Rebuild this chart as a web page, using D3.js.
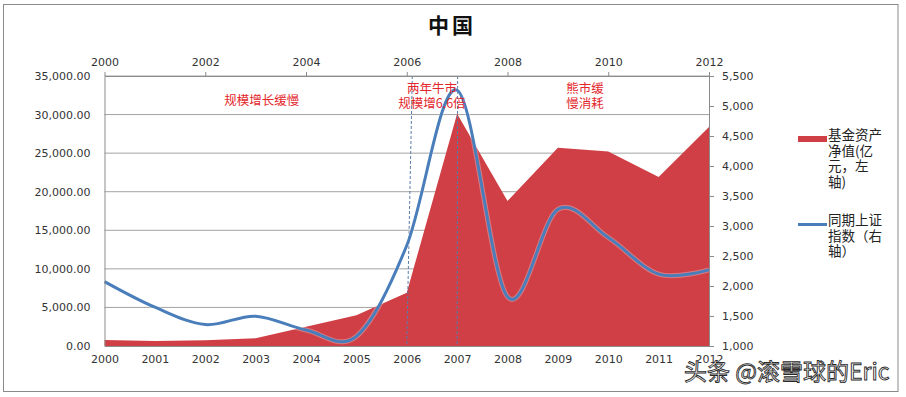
<!DOCTYPE html>
<html>
<head>
<meta charset="utf-8">
<script src="https://cdn.jsdelivr.net/npm/d3@7"></script>
<style>
  body { margin: 0; background: #fff; }
  svg { display: block; }
</style>
</head>
<body>
<div id="wrapper"></div>
<script>
// data
const years = [2000, 2001, 2002, 2003, 2004, 2005, 2006, 2007, 2008, 2009, 2010, 2011, 2012]
// 基金资产净值 (亿元, left axis)
const fundNav = [780, 650, 740, 1000, 2500, 4000, 6900, 30100, 18800, 25700, 25200, 21900, 28400]
// 同期上证指数 (right axis)
const shIndex = [2073, 1646, 1357, 1497, 1266, 1161, 2675, 5262, 1821, 3277, 2808, 2199, 2269]
const topTicks = [2000, 2002, 2004, 2006, 2008, 2010, 2012]
const leftTicks = [0, 5000, 10000, 15000, 20000, 25000, 30000, 35000]
const rightTicks = [1000, 1500, 2000, 2500, 3000, 3500, 4000, 4500, 5000, 5500]
const markerYears = [2006, 2007]
// annotation anchors in data units (year, left-axis value of first line)
const notes = [
  { lines: ['规模增长缓慢'], year: 2003.12, value: 31870 },
  { lines: ['两年牛市', '规模增6.6倍'], year: 2006.5, value: 33350 },
  { lines: ['熊市缓', '慢消耗'], year: 2009.54, value: 33300 },
]
const legendNav = ['基金资产', '净值(亿', '元，左', '轴)']
const legendIdx = ['同期上证', '指数（右', '轴）']

const width = 906
const height = 397
const dims = { left: 104.5, right: 709, top: 76, bottom: 346 }

const areaColor = '#cf3f45'
const lineColor = '#4a7ebb'
const axisColor = '#8c8c8c'
const labelFont = '"DejaVu Sans", Verdana, sans-serif'
const cjkFont = '"Noto Sans CJK SC", sans-serif'

const svg = d3.select('#wrapper').append('svg')
  .attr('width', width)
  .attr('height', height)

// outer frame
svg.append('rect')
  .attr('x', 3.5).attr('y', 4.5)
  .attr('width', 894.5).attr('height', 387)
  .attr('fill', '#fff')
  .attr('stroke', '#8a8a8a')

svg.append('text')
  .attr('x', 452).attr('y', 33)
  .attr('text-anchor', 'middle')
  .style('font-family', cjkFont)
  .style('font-weight', 700)
  .style('font-size', '21px')
  .style('letter-spacing', '3px')
  .attr('fill', '#111')
  .text('中国')

// scales
const xScale = d3.scaleLinear().domain([2000, 2012]).range([dims.left, dims.right])
const yLeft = d3.scaleLinear().domain([0, 35000]).range([dims.bottom, dims.top])
const yRight = d3.scaleLinear().domain([1000, 5500]).range([dims.bottom, dims.top])

// gridlines
svg.append('g')
  .selectAll('line')
  .data(leftTicks.slice(1))
  .join('line')
  .attr('x1', dims.left).attr('x2', dims.right)
  .attr('y1', (d) => yLeft(d)).attr('y2', (d) => yLeft(d))
  .attr('stroke', '#a3a3a3')
  .attr('stroke-width', 1)

// area
const area = d3.area()
  .x((d, i) => xScale(years[i]))
  .y0(yLeft(0))
  .y1((d) => yLeft(d))
svg.append('path')
  .datum(fundNav)
  .attr('d', area)
  .attr('fill', areaColor)

// dashed markers (first one is slightly slanted in the original)
svg.append('g')
  .selectAll('line')
  .data(markerYears)
  .join('line')
  .attr('x1', (d, i) => xScale(d + (i === 0 ? 0.11 : 0.01)))
  .attr('x2', (d) => xScale(d))
  .attr('y1', dims.top)
  .attr('y2', dims.bottom)
  .attr('stroke', '#5a7aa8')
  .attr('stroke-width', 1)
  .attr('stroke-dasharray', '3,2')

// index line
const line = d3.line()
  .x((d, i) => xScale(years[i]))
  .y((d) => yRight(d))
  .curve(d3.curveCardinal.tension(0))
svg.append('path')
  .datum(shIndex)
  .attr('d', line)
  .attr('fill', 'none')
  .attr('stroke', '#fff')
  .attr('stroke-opacity', 0.3)
  .attr('stroke-width', 5)
svg.append('path')
  .datum(shIndex)
  .attr('d', line)
  .attr('fill', 'none')
  .attr('stroke', lineColor)
  .attr('stroke-width', 3)

// axes
const styleAxis = (g) => {
  g.selectAll('.domain').attr('stroke', axisColor)
  g.selectAll('.tick line').attr('stroke', axisColor)
  g.selectAll('text')
    .style('font-family', labelFont)
    .style('font-size', '11px')
    .attr('fill', '#333')
}

svg.append('g')
  .attr('transform', `translate(0,${dims.bottom})`)
  .call(d3.axisBottom(xScale).tickValues(years).tickFormat(d3.format('d')).tickSize(0).tickPadding(9))
  .call(styleAxis)

svg.append('g')
  .attr('transform', `translate(0,${dims.top})`)
  .call(d3.axisTop(xScale).tickValues(topTicks).tickFormat(d3.format('d')).tickSizeInner(4).tickSizeOuter(0).tickPadding(6))
  .call(styleAxis)

svg.append('g')
  .attr('transform', `translate(${dims.left},0)`)
  .call(d3.axisLeft(yLeft).tickValues(leftTicks).tickFormat(d3.format(',.2f')).tickSize(0).tickPadding(14))
  .call(styleAxis)

svg.append('g')
  .attr('transform', `translate(${dims.right},0)`)
  .call(d3.axisRight(yRight).tickValues(rightTicks).tickFormat(d3.format(',')).tickSizeInner(5).tickSizeOuter(0).tickPadding(8))
  .call(styleAxis)

// annotations, one text per block
const noteText = svg.append('g')
  .selectAll('text')
  .data(notes)
  .join('text')
  .attr('text-anchor', 'middle')
  .style('font-family', cjkFont)
  .style('font-size', '12.5px')
  .attr('fill', '#e3262b')
noteText.selectAll('tspan')
  .data((d) => d.lines.map((t) => ({ t, d })))
  .join('tspan')
  .attr('x', (e) => xScale(e.d.year))
  .attr('y', (e, i) => yLeft(e.d.value) + i * 15)
  .attr('dy', '0.35em')
  .text((e) => e.t)

// legend
const legend = svg.append('g').attr('transform', 'translate(798,0)')
legend.append('rect')
  .attr('x', 0).attr('y', 136)
  .attr('width', 29).attr('height', 6)
  .attr('fill', areaColor)
legend.append('text')
  .style('font-family', cjkFont)
  .style('font-size', '13.5px')
  .attr('fill', '#222')
  .selectAll('tspan')
  .data(legendNav)
  .join('tspan')
  .attr('x', 30)
  .attr('y', (d, i) => 140 + i * 15.5)
  .text((d) => d)

legend.append('line')
  .attr('x1', 0).attr('x2', 29)
  .attr('y1', 224.5).attr('y2', 224.5)
  .attr('stroke', lineColor)
  .attr('stroke-width', 3)
legend.append('text')
  .style('font-family', cjkFont)
  .style('font-size', '13.5px')
  .attr('fill', '#222')
  .selectAll('tspan')
  .data(legendIdx)
  .join('tspan')
  .attr('x', 30)
  .attr('y', (d, i) => 225 + i * 15.5)
  .text((d) => d)

// watermark
svg.append('text')
  .attr('x', 684).attr('y', 380)
  .style('font-family', cjkFont)
  .style('font-size', '23px')
  .attr('fill', '#fff')
  .attr('stroke', '#2a2a2a')
  .attr('stroke-width', 0.9)
  .text('头条 @滚雪球的Eric')
</script>
</body>
</html>
